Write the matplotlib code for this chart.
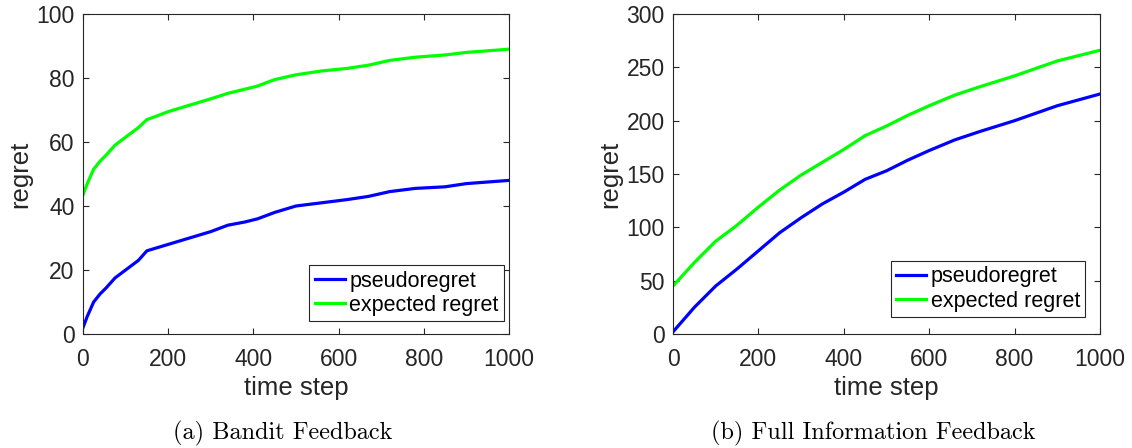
import numpy as np
import matplotlib.pyplot as plt

plt.rcParams['font.family'] = ['Liberation Sans', 'DejaVu Sans']

# (a) bandit feedback
t_a = [0, 10, 25, 40, 55, 75, 100, 130, 150, 175, 200, 250, 300, 340, 380, 410,
       450, 500, 560, 620, 670, 720, 780, 850, 900, 1000]
pseudo_a = [2, 5.5, 10, 12.5, 14.5, 17.5, 20, 23, 26, 27, 28, 30, 32, 34, 35, 36,
            38, 40, 41, 42, 43, 44.5, 45.5, 46, 47, 48]
expected_a = [43.5, 47, 51.5, 54, 56, 59, 61.5, 64.5, 67, 68.2, 69.5, 71.5, 73.5, 75.2, 76.5, 77.5,
              79.5, 81, 82.2, 83, 84, 85.5, 86.5, 87.2, 88, 89]

# (b) full information feedback
t_b = [0, 50, 100, 150, 200, 250, 300, 350, 400, 450, 500, 550, 600, 660, 720,
       800, 850, 900, 1000]
pseudo_b = [2, 25, 45, 61, 78, 95, 109, 122, 133, 145, 153, 163, 172, 182, 190,
            200, 207, 214, 225]
expected_b = [45, 67, 87, 102, 119, 135, 149, 161, 173, 186, 195, 205, 214, 224, 232,
              242, 249, 256, 266]

captions = ['(a) Bandit Feedback', '(b) Full Information Feedback']

fig = plt.figure(figsize=(11.32, 4.48), dpi=100)
ax1 = fig.add_axes([83/1132, 114/448, 426/1132, 320/448])
ax2 = fig.add_axes([673/1132, 114/448, 427/1132, 320/448])

dark = '#262626'
panels = [(ax1, t_a, pseudo_a, expected_a, 100, 20, (0.988, 0.04)),
          (ax2, t_b, pseudo_b, expected_b, 300, 50, (0.966, 0.053))]

for ax, t, p, e, ymax, ystep, anchor in panels:
    ax.plot(t, p, color=(0, 0, 1), lw=2.3, label='pseudoregret')
    ax.plot(t, e, color=(0, 1, 0), lw=2.3, label='expected regret')
    ax.set_xlim(0, 1000)
    ax.set_ylim(0, ymax)
    ax.set_xticks(np.arange(0, 1001, 200))
    ax.set_yticks(np.arange(0, ymax + 1, ystep))
    ax.tick_params(direction='in', top=True, right=True, length=4, width=0.8,
                   labelsize=16.5, colors=dark, labelcolor=dark, pad=6)
    ax.tick_params(axis='x', pad=10)
    for s in ax.spines.values():
        s.set_color(dark)
        s.set_linewidth(0.8)
    ax.set_xlabel('time step', fontsize=18.5, color=dark, labelpad=4)
    ax.set_ylabel('regret', fontsize=18.5, color=dark, labelpad=3)
    leg = ax.legend(loc='lower right', bbox_to_anchor=anchor, borderaxespad=0,
                    fontsize=15.5, fancybox=False, edgecolor=dark, framealpha=1,
                    handlelength=1.4, handletextpad=0.2, borderpad=0.25,
                    labelspacing=0.15)
    leg.get_frame().set_linewidth(0.8)

fig.text(283/1132, 1 - 433/448, captions[0], family='cmr10', fontsize=17.5,
         ha='center', va='center')
fig.text(873/1132, 1 - 433/448, captions[1], family='cmr10', fontsize=17.5,
         ha='center', va='center')

fig.savefig('out.png', dpi=100)
